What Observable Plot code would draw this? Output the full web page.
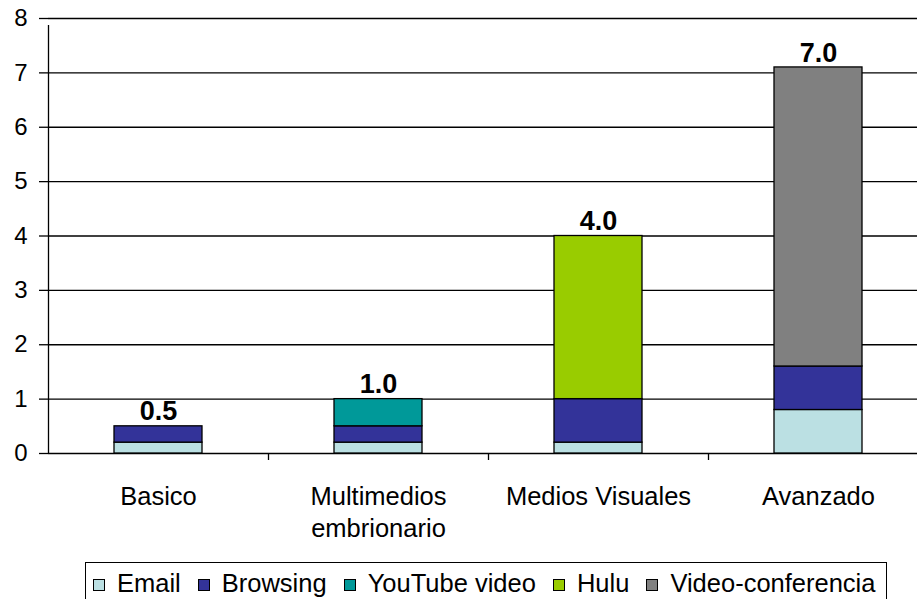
<!DOCTYPE html>
<html>
<head>
<meta charset="utf-8">
<script src="https://cdn.jsdelivr.net/npm/d3@7"></script>
<script src="https://cdn.jsdelivr.net/npm/@observablehq/plot@0.6"></script>
<style>
  body { margin: 0; background: #fff; font-family: "Liberation Sans", Arial, sans-serif; overflow: hidden; }
  #chart svg { display: block; }
  #legend { position: absolute; left: 85px; top: 562px; width: 802px; height: 50px; border: 1px solid #000;
    box-sizing: border-box; font-size: 25.5px; color: #000; white-space: nowrap; padding-left: 7px; padding-top: 5px; line-height: 29px; }
  .item { display: inline-flex; align-items: center; margin-right: 17px; }
  .sw { width: 10px; height: 10px; border: 1px solid #000; margin-right: 12px; margin-top: 3px; }
</style>
</head>
<body>
<div id="chart"></div>
<div id="legend"></div>
<script>
const categories = ["Basico", "Multimedios\nembrionario", "Medios Visuales", "Avanzado"];
const seriesNames = ["Email", "Browsing", "YouTube video", "Hulu", "Video-conferencia"];
const seriesColors = ["#BBE0E3", "#333399", "#009999", "#99CC00", "#808080"];
const email = [0.2, 0.2, 0.2, 0.8];
const browsing = [0.3, 0.3, 0.8, 0.8];
const youtube = [0, 0.5, 0, 0];
const hulu = [0, 0, 3.0, 0];
const videoConf = [0, 0, 0, 5.5];
const totalLabels = ["0.5", "1.0", "4.0", "7.0"];
const yTicks = [0, 1, 2, 3, 4, 5, 6, 7, 8];

const seriesValues = [email, browsing, youtube, hulu, videoConf];
const rows = [];
seriesNames.forEach((s, si) => {
  categories.forEach((c, ci) => {
    const v = seriesValues[si][ci];
    if (v > 0) rows.push({category: c, series: s, value: v});
  });
});
const totals = categories.map((c, ci) => ({
  category: c,
  total: seriesValues.reduce((a, arr) => a + arr[ci], 0),
  label: totalLabels[ci]
}));

const W = 917, H = 562, ML = 48, MT = 18, MB = 109;
const bandStep = 220;

const chart = Plot.plot({
  width: W,
  height: H,
  marginLeft: ML,
  marginRight: 0,
  marginTop: MT,
  marginBottom: MB,
  style: { fontFamily: "Liberation Sans, Arial, sans-serif", background: "#fff", color: "#000", overflow: "visible" },
  x: { type: "band", domain: categories, range: [ML, ML + bandStep * categories.length], paddingInner: 0.6, paddingOuter: 0.3, axis: null },
  y: { type: "linear", domain: [0, 8], axis: null },
  color: { domain: seriesNames, range: seriesColors },
  marks: [
    Plot.ruleY(yTicks, { stroke: "#000", strokeWidth: 1.3, strokeOpacity: 1 }),
    Plot.axisY({ ticks: yTicks, tickSize: 9, tickPadding: 12, fontSize: 24, tickFormat: d3.format("d"), label: null, stroke: "#000", strokeOpacity: 1, strokeWidth: 1.3 }),
    Plot.ruleX(categories.slice(0, 1), { x: d => d, dx: -bandStep / 2, y1: 0, y2: 8, insetBottom: -7, stroke: "#000", strokeWidth: 1.3 }),
    Plot.ruleX(categories.slice(1), { x: d => d, dx: -bandStep / 2, y1: 0, y2: 0, insetBottom: -7, stroke: "#000", strokeWidth: 1.3 }),
    Plot.barY(rows, Plot.stackY({ order: null }, {
      x: "category", y: "value", fill: "series", z: "series", stroke: "#000", strokeWidth: 1.3
    })),
    Plot.text(totals, { x: "category", y: "total", text: "label", dy: -14.5, fontSize: 27, fontWeight: "bold", fill: "#000" }),
    Plot.text(categories, { x: d => d, frameAnchor: "bottom", text: d => d, lineAnchor: "top", dy: 29, fontSize: 25.5, lineHeight: 1.25, fill: "#000" })
  ]
});

document.getElementById("chart").appendChild(chart);

const legend = document.getElementById("legend");
seriesNames.forEach((s, i) => {
  const it = document.createElement("div");
  it.className = "item";
  const sw = document.createElement("div");
  sw.className = "sw";
  sw.style.background = seriesColors[i];
  it.appendChild(sw);
  const t = document.createElement("span");
  t.textContent = s;
  it.appendChild(t);
  legend.appendChild(it);
});
</script>
</body>
</html>
